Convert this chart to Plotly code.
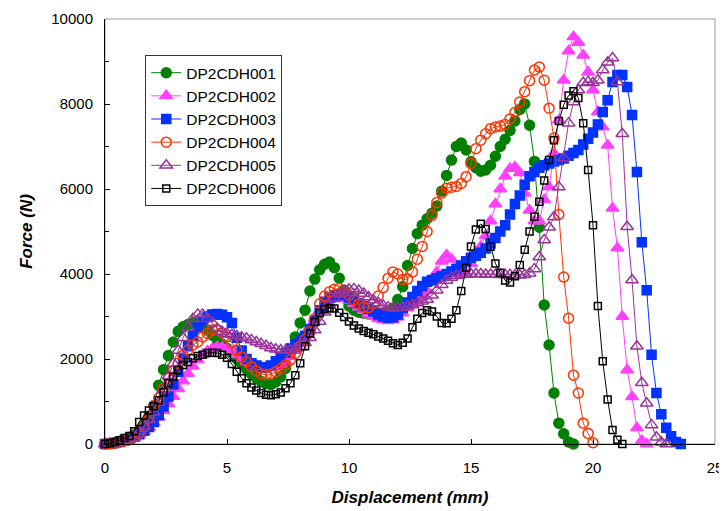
import plotly.graph_objects as go

# displacement samples (mm), shared by all specimens
disp = [0.0, 0.2, 0.4, 0.6, 0.8, 1.0, 1.2, 1.4, 1.6, 1.8,
        2.0, 2.2, 2.4, 2.6, 2.8, 3.0, 3.2, 3.4, 3.6, 3.8,
        4.0, 4.2, 4.4, 4.6, 4.8, 5.0, 5.2, 5.4, 5.6, 5.8,
        6.0, 6.2, 6.4, 6.6, 6.8, 7.0, 7.2, 7.4, 7.6, 7.8,
        8.0, 8.2, 8.4, 8.6, 8.8, 9.0, 9.2, 9.4, 9.6, 9.8,
        10.0, 10.2, 10.4, 10.6, 10.8, 11.0, 11.2, 11.4, 11.6, 11.8,
        12.0, 12.2, 12.4, 12.6, 12.8, 13.0, 13.2, 13.4, 13.6, 13.8,
        14.0, 14.2, 14.4, 14.6, 14.8, 15.0, 15.2, 15.4, 15.6, 15.8,
        16.0, 16.2, 16.4, 16.6, 16.8, 17.0, 17.2, 17.4, 17.6, 17.8,
        18.0, 18.2, 18.4, 18.6, 18.8, 19.0, 19.2, 19.4, 19.6, 19.8,
        20.0, 20.2, 20.4, 20.6, 20.8, 21.0, 21.2, 21.4, 21.6, 21.8,
        22.0, 22.2, 22.4, 22.6, 22.8, 23.0, 23.2, 23.4, 23.6]

# force (N) for each specimen, one value per displacement sample
f001 = [0, 10, 30, 60, 100, 150, 220, 320, 450, 650,
        900, 1380, 1750, 2080, 2400, 2650, 2760, 2810, 2850, 2830,
        2760, 2680, 2560, 2460, 2350, 2250, 2130, 2000, 1880, 1760,
        1650, 1550, 1470, 1420, 1400, 1460, 1580, 1780, 2150, 2520,
        2850, 3150, 3600, 3880, 4100, 4230, 4280, 4150, 3900, 3620,
        3250, 3150, 3100, 3080, 3070, 3060, 3070, 3080, 3120, 3200,
        3400, 3700, 4200, 4600, 4950, 5150, 5300, 5430, 5600, 5950,
        6320, 6680, 7000, 7080, 6920, 6640, 6500, 6420, 6450, 6560,
        6770, 7000, 7170, 7380, 7600, 7870, 8000, 7500, 6650, 5100,
        3270, 2330, 1200, 490, 240, 50, 0]

f002 = [0, 5, 15, 35, 60, 100, 150, 210, 290, 390,
        500, 630, 780, 950, 1120, 1300, 1480, 1660, 1830, 1980,
        2100, 2190, 2250, 2280, 2270, 2240, 2180, 2100, 2020, 1940,
        1880, 1840, 1810, 1800, 1800, 1820, 1870, 1950, 2060, 2200,
        2370, 2560, 2760, 2960, 3150, 3300, 3400, 3450, 3460, 3430,
        3380, 3300, 3220, 3140, 3060, 3000, 2950, 2920, 2900, 2920,
        2980, 3080, 3200, 3300, 3380, 3460, 3600, 3800, 4050, 4300,
        4450, 4350, 4150, 4000, 4000, 4250, 4450, 4650, 4900, 5250,
        5650, 6000, 6300, 6480, 6520, 6380, 5900, 5500, 5250, 5250,
        5750, 6050, 6840, 7620, 8560, 9250, 9580, 9450, 9150, 8750,
        8330, 7810, 7460, 7030, 5550, 4610, 3000, 1740, 1110, 380,
        80, 0]

f003 = [0, 10, 25, 50, 80, 120, 170, 230, 310, 400,
        520, 680, 880, 1120, 1400, 1700, 2000, 2300, 2550, 2750,
        2900, 3000, 3050, 3060, 3040, 2980, 2850, 2500, 2200, 2000,
        1900, 1850, 1800, 1800, 1850, 1950, 2050, 2150, 2250, 2350,
        2450, 2550, 2700, 2900, 3150, 3350, 3450, 3500, 3520, 3500,
        3450, 3400, 3320, 3250, 3180, 3120, 3050, 3000, 2970, 2980,
        3050, 3200, 3330, 3460, 3600, 3720, 3820, 3860, 3900, 3950,
        4000, 4060, 4120, 4200, 4300, 4380, 4430, 4500, 4600, 4720,
        4850, 5000, 5150, 5400, 5650, 5850, 6100, 6300, 6400, 6500,
        6560, 6600, 6650, 6680, 6720, 6780, 6850, 6920, 7050, 7180,
        7330, 7520, 7810, 8090, 8520, 8680, 8680, 8400, 7740, 6400,
        4750, 3620, 2100, 1200, 700, 380, 180, 50, 0]

f004 = [0, 5, 20, 40, 70, 110, 170, 260, 400, 620,
        900, 1080, 1320, 1550, 1720, 1900, 2090, 2210, 2330, 2400,
        2520, 2600, 2680, 2690, 2620, 2520, 2380, 2210, 2050, 1930,
        1820, 1720, 1650, 1630, 1650, 1700, 1770, 1860, 1980, 2130,
        2300, 2460, 2650, 2950, 3300, 3480, 3580, 3640, 3660, 3580,
        3500, 3390, 3290, 3220, 3210, 3300, 3480, 3680, 3900, 4050,
        4000, 3870, 3880, 4050, 4350, 4650, 5000, 5380, 5680, 5900,
        6020, 6040, 6060, 6130, 6290, 6600, 6950, 7150, 7300, 7420,
        7460, 7480, 7520, 7650, 7800, 8050, 8290, 8550, 8800, 8870,
        8560, 7900, 7200, 5400, 3930, 2960, 1620, 1200, 490, 250,
        30]

f005 = [0, 5, 20, 50, 90, 140, 210, 300, 420, 570,
        750, 980, 1280, 1600, 1900, 2200, 2500, 2750, 2950, 3050,
        3050, 2950, 2850, 2720, 2640, 2600, 2570, 2540, 2510, 2490,
        2450, 2400, 2360, 2310, 2260, 2230, 2210, 2200, 2210, 2240,
        2290, 2380, 2500, 2680, 2880, 3100, 3270, 3420, 3530, 3600,
        3640, 3650, 3610, 3540, 3460, 3390, 3320, 3260, 3220, 3200,
        3200, 3210, 3240, 3270, 3320, 3360, 3400, 3500, 3620, 3750,
        3850, 3920, 3960, 3980, 3990, 4000, 4000, 4000, 3990, 3990,
        3990, 3980, 3980, 3980, 3970, 3970, 3980, 4020, 4120, 4400,
        4800, 5100, 5340, 6050, 6730, 7550, 8050, 8330, 8500, 8520,
        8500, 8560, 8800, 8980, 9080, 8520, 7300, 5110, 3860, 2300,
        1440, 960, 450, 160, 40, 0]

f006 = [0, 20, 50, 90, 140, 190, 300, 520, 670, 790,
        890, 1030, 1220, 1430, 1580, 1740, 1860, 1930, 2020, 2070,
        2100, 2140, 2150, 2140, 2100, 2030, 1880, 1700, 1550, 1430,
        1330, 1260, 1200, 1160, 1150, 1170, 1210, 1310, 1430, 1620,
        1900, 2300, 2600, 2870, 3080, 3170, 3200, 3190, 3090, 2990,
        2880, 2790, 2720, 2660, 2620, 2580, 2530, 2480, 2430, 2370,
        2330, 2380, 2480, 2750, 2950, 3080, 3150, 3120, 3000, 2850,
        2840, 2950, 3150, 3600, 4150, 4650, 5050, 5180, 5060, 4640,
        4250, 4030, 3850, 3800, 3950, 4210, 4570, 5000, 5350, 5700,
        6200, 6680, 7150, 7600, 7980, 8200, 8300, 8140, 7550, 6450,
        5150, 3250, 1950, 1050, 330, 100, 0]

names = ['DP2CDH001', 'DP2CDH002', 'DP2CDH003', 'DP2CDH004', 'DP2CDH005', 'DP2CDH006']
forces = [f001, f002, f003, f004, f005, f006]

styles = [
    dict(color='rgb(0,128,0)', symbol='circle', size=10),
    dict(color='rgb(255,64,255)', symbol='triangle-up', size=11),
    dict(color='rgb(0,51,255)', symbol='square', size=9),
    dict(color='rgb(255,51,0)', symbol='circle-open', size=10),
    dict(color='rgb(153,51,153)', symbol='triangle-up-open', size=11),
    dict(color='black', symbol='square-open', size=7),
]

fig = go.Figure()
for name, f, st in zip(names, forces, styles):
    fig.add_trace(go.Scatter(
        x=disp[:len(f)], y=f, name=name, mode='lines+markers',
        line=dict(color=st['color'], width=1),
        marker=dict(symbol=st['symbol'], size=st['size'], color=st['color'],
                    line=dict(color=st['color'], width=1.5)),
        cliponaxis=False,
    ))

font = 'Arial, Liberation Sans, sans-serif'

# page body has an 8px margin, so the figure is 8px smaller than the window
fig.update_layout(
    width=719,
    height=503,
    margin=dict(t=11, r=12, b=67, l=97),
    paper_bgcolor='white',
    plot_bgcolor='white',
    font=dict(family=font, size=15, color='black'),
    legend=dict(
        x=0.066, y=0.915, xanchor='left', yanchor='top',
        bgcolor='white', bordercolor='#333', borderwidth=1,
        font=dict(size=15.5),
        tracegroupgap=0,
    ),
    shapes=[dict(type='rect', xref='paper', yref='paper', x0=0, y0=0, x1=1, y1=1,
                 line=dict(color='#999', width=1), layer='below')],
)

fig.update_xaxes(
    range=[0, 25], dtick=5, tick0=0,
    showgrid=False, zeroline=False, automargin=False,
    showline=True, linecolor='black', linewidth=1,
    ticks='inside', ticklen=5, tickcolor='black',
    ticklabelstandoff=10,
    title=dict(text='<b><i>Displacement (mm)</i></b>', font=dict(size=17), standoff=16),
)
fig.update_yaxes(
    range=[0, 10000], dtick=2000, tick0=0, tickformat='d',
    showgrid=False, zeroline=False, automargin=False,
    showline=True, linecolor='black', linewidth=1,
    ticks='inside', ticklen=5, tickcolor='black',
    minor=dict(dtick=1000, ticks='inside', ticklen=4, tickcolor='black'),
    ticklabelstandoff=8,
    title=dict(text='<b><i>Force (N)</i></b>', font=dict(size=17), standoff=14),
)

fig.write_html('out.html')
